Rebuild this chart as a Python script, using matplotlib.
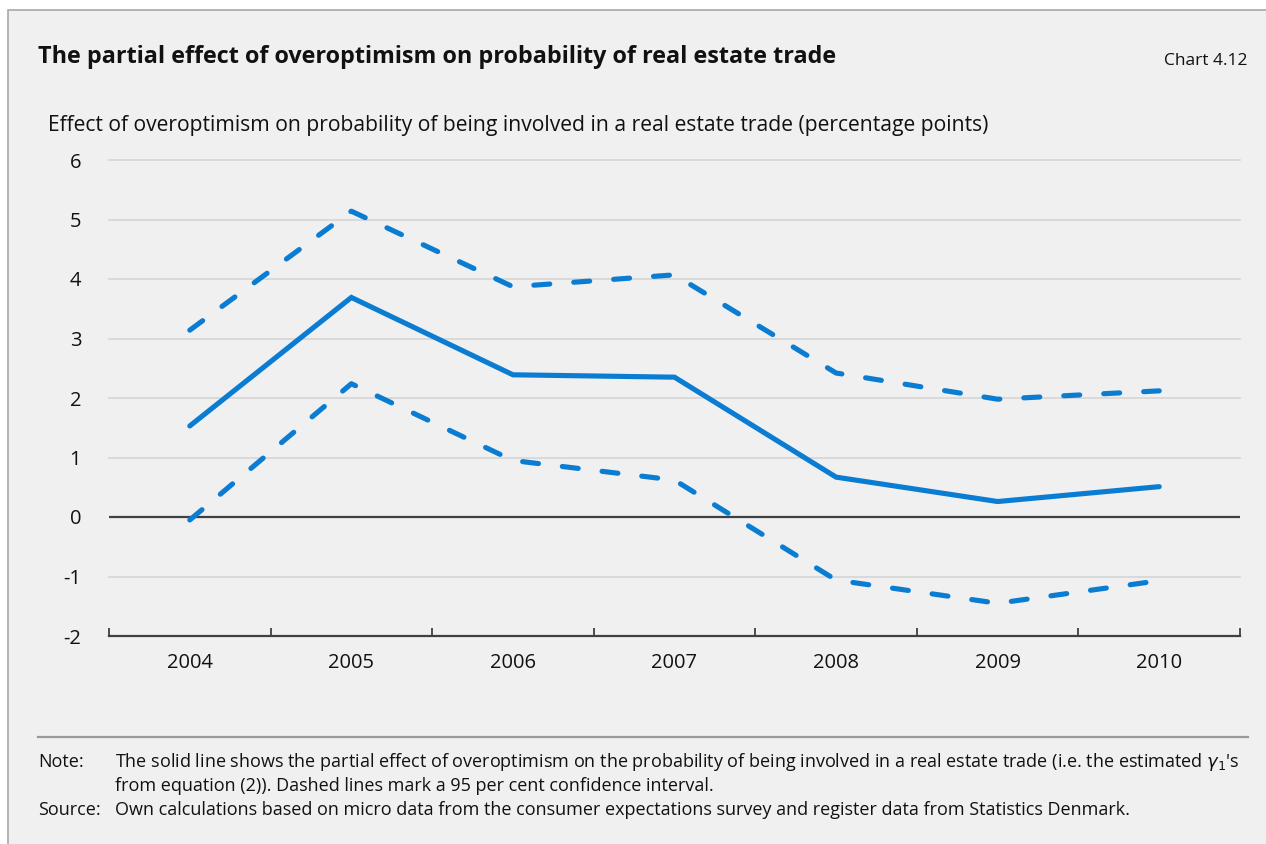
import matplotlib
matplotlib.use("Agg")
import matplotlib.pyplot as plt
from matplotlib.lines import Line2D
from matplotlib.patches import Rectangle
import numpy as np

years = ["2004", "2005", "2006", "2007", "2008", "2009", "2010"]
effect = [1.53, 3.69, 2.39, 2.35, 0.67, 0.26, 0.51]
upper = [3.14, 5.14, 3.87, 4.07, 2.42, 1.98, 2.12]
lower = [-0.05, 2.24, 0.95, 0.62, -1.06, -1.45, -1.07]
yticks = [-2, -1, 0, 1, 2, 3, 4, 5, 6]

BLUE = "#0a7dd3"
BG = "#f0f0f0"
FONT = "Open Sans"
plt.rcParams['font.family'] = [FONT, 'DejaVu Sans']
plt.rcParams['lines.scale_dashes'] = False

W, H = 1266, 844
fig = plt.figure(figsize=(W / 100, H / 100), dpi=100)
fig.patch.set_facecolor("white")

# gray panel with border (left and top visible)
fig.patches.append(Rectangle((8 / W, -0.05), 1.1, 1.05 - 10 / H, transform=fig.transFigure,
                             facecolor=BG, edgecolor="#a8a8a8", linewidth=1.2, zorder=-10))

ax = fig.add_axes([109 / W, 1 - 636 / H, (1240 - 109) / W, (636 - 160) / H])
ax.set_facecolor(BG)
x = np.arange(len(years))
ax.set_xlim(-0.5, len(years) - 0.5)
ax.set_ylim(-2, 6)

for yv in yticks:
    if yv == 0:
        ax.axhline(0, color="#404040", linewidth=1.6, zorder=2)
    elif yv != -2:
        ax.axhline(yv, color="#d2d2d2", linewidth=1.1, zorder=1, clip_on=False)

ax.plot(x, effect, color=BLUE, linewidth=3.7, solid_capstyle="round", solid_joinstyle="miter", zorder=3)
for s in (upper, lower):
    ax.plot(x, s, color=BLUE, linewidth=3.7, linestyle=(0, (11.5, 17.3)),
            dash_capstyle="round", zorder=3)

for sp in ("top", "right", "left"):
    ax.spines[sp].set_visible(False)
ax.spines["bottom"].set_color("#404040")
ax.spines["bottom"].set_linewidth(1.6)

TICKFS = 14.5
ax.set_yticks(yticks)
ax.set_yticklabels([str(v) for v in yticks], fontsize=TICKFS, color="#111111")
ax.tick_params(axis="y", length=0, pad=20)
ax.set_xticks(x)
ax.set_xticklabels(years, fontsize=TICKFS, color="#111111")
ax.tick_params(axis="x", which="major", length=0, pad=12)
ax.set_xticks(np.arange(-0.5, len(years)), minor=True)
ax.tick_params(axis="x", which="minor", direction="in", length=6, width=1.3, color="#404040")

fig.text(38 / W, 1 - 57 / H, "The partial effect of overoptimism on probability of real estate trade",
         fontsize=16.8, fontweight="bold", va="center", ha="left", color="#111111")
fig.text(1248 / W, 1 - 61 / H, "Chart 4.12", fontsize=12.5, va="center", ha="right", color="#111111")
fig.text(48 / W, 1 - 125 / H,
         "Effect of overoptimism on probability of being involved in a real estate trade (percentage points)",
         fontsize=15.2, va="center", ha="left", color="#111111")

fig.add_artist(Line2D([38 / W, 1248 / W], [1 - 737 / H, 1 - 737 / H], transform=fig.transFigure,
                      color="#9a9a9a", linewidth=1.6))

fs = 13
fig.text(38 / W, 1 - 762 / H, "Note:", fontsize=fs, va="center", ha="left", color="#111111")
fig.text(115 / W, 1 - 762 / H,
         "The solid line shows the partial effect of overoptimism on the probability of being involved in a real estate trade (i.e. the estimated $\\gamma_1$'s",
         fontsize=fs, va="center", ha="left", color="#111111")
fig.text(115 / W, 1 - 786 / H,
         "from equation (2)). Dashed lines mark a 95 per cent confidence interval.",
         fontsize=fs, va="center", ha="left", color="#111111")
fig.text(38 / W, 1 - 810 / H, "Source:", fontsize=fs, va="center", ha="left", color="#111111")
fig.text(115 / W, 1 - 810 / H,
         "Own calculations based on micro data from the consumer expectations survey and register data from Statistics Denmark.",
         fontsize=fs, va="center", ha="left", color="#111111")

fig.savefig("out.png", dpi=100, facecolor=fig.get_facecolor())
